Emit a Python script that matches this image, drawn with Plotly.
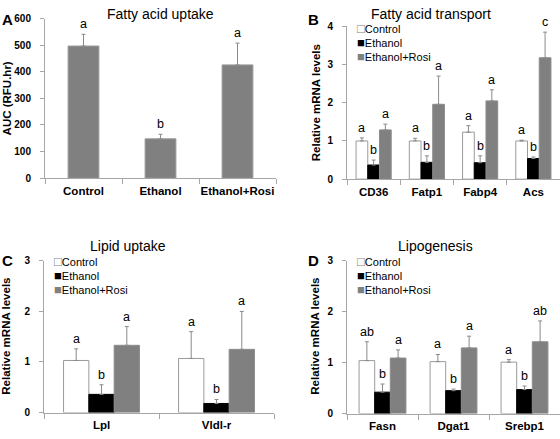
import plotly.graph_objects as go

# ---------------- data ----------------
groups = ["Control", "Ethanol", "Ethanol+Rosi"]

# Panel A: fatty acid uptake (AUC, RFU.hr)
a_values = [497, 148, 426]
a_errors = [44, 17, 82]
a_letters = ["a", "b", "a"]

# Panel B: fatty acid transport
b_genes = ["CD36", "Fatp1", "Fabp4", "Acs"]
b_control = [1.00, 1.00, 1.23, 1.00]
b_control_err = [0.08, 0.07, 0.17, 0.02]
b_ethanol = [0.37, 0.44, 0.43, 0.54]
b_ethanol_err = [0.13, 0.17, 0.18, 0.04]
b_rosi = [1.29, 1.96, 2.05, 3.18]
b_rosi_err = [0.15, 0.74, 0.29, 0.67]
b_letters = [["a", "a", "a", "a"], ["b", "b", "b", "b"], ["a", "a", "a", "c"]]

# Panel C: lipid uptake
c_genes = ["Lpl", "Vldl-r"]
c_control = [1.03, 1.07]
c_control_err = [0.23, 0.53]
c_ethanol = [0.36, 0.18]
c_ethanol_err = [0.19, 0.08]
c_rosi = [1.33, 1.25]
c_rosi_err = [0.37, 0.75]
c_letters = [["a", "a"], ["b", "b"], ["a", "a"]]

# Panel D: lipogenesis
d_genes = ["Fasn", "Dgat1", "Srebp1"]
d_control = [1.04, 1.02, 1.01]
d_control_err = [0.37, 0.14, 0.05]
d_ethanol = [0.42, 0.45, 0.47]
d_ethanol_err = [0.16, 0.03, 0.07]
d_rosi = [1.09, 1.29, 1.41]
d_rosi_err = [0.16, 0.23, 0.41]
d_letters = [["ab", "a", "a"], ["b", "b", "b"], ["a", "a", "ab"]]

# ---------------- styles ----------------
FONT = "Liberation Sans, Arial, sans-serif"
W, H = 560, 439
fill_colors = ["#ffffff", "#000000", "#808080"]
line_colors = ["#9a9a9a", "#000000", "#8c8c8c"]
ERR_COLOR = "#8a8a8a"
AXIS_COLOR = "#a6a6a6"
BARGAP = 0.34

def px_x(p):
    return p / W

def px_y(p):
    return 1 - p / H

fig = go.Figure()

# Panel A
fig.add_trace(go.Bar(
    x=groups, y=a_values, width=0.4,
    marker=dict(color="#808080", line=dict(color="#9a9a9a", width=1)),
    error_y=dict(type="data", symmetric=False, array=a_errors,
                 arrayminus=[0] * len(a_errors), color=ERR_COLOR,
                 thickness=1, width=2),
    xaxis="x", yaxis="y", showlegend=False,
))

panels = [
    ("x2", "y2", b_genes, [b_control, b_ethanol, b_rosi],
     [b_control_err, b_ethanol_err, b_rosi_err], b_letters),
    ("x3", "y3", c_genes, [c_control, c_ethanol, c_rosi],
     [c_control_err, c_ethanol_err, c_rosi_err], c_letters),
    ("x4", "y4", d_genes, [d_control, d_ethanol, d_rosi],
     [d_control_err, d_ethanol_err, d_rosi_err], d_letters),
]

annotations = []

for xa, ya, genes, series, errs, letters in panels:
    for i, (vals, er) in enumerate(zip(series, errs)):
        fig.add_trace(go.Bar(
            x=genes, y=vals, name=groups[i],
            marker=dict(color=fill_colors[i], line=dict(color=line_colors[i], width=1)),
            error_y=dict(type="data", symmetric=False, array=er,
                         arrayminus=[0] * len(er), color=ERR_COLOR,
                         thickness=1, width=2),
            xaxis=xa, yaxis=ya, showlegend=False,
        ))
        group_w = 1 - BARGAP
        off = (i - 1) * group_w / 3
        for j, (v, e, lt) in enumerate(zip(vals, er, letters[i])):
            annotations.append(dict(
                x=j + off, y=v + e, xref=xa, yref=ya, text=lt,
                showarrow=False, yanchor="bottom", yshift=1,
                font=dict(family=FONT, size=12.5, color="#000"),
            ))

for j, (v, e, lt) in enumerate(zip(a_values, a_errors, a_letters)):
    annotations.append(dict(
        x=j, y=v + e, xref="x", yref="y", text=lt,
        showarrow=False, yanchor="bottom", yshift=1,
        font=dict(family=FONT, size=12.5, color="#000"),
    ))

# panel geometry (pixels)
geom = {
    "": dict(x0=45, x1=276, y0=177, y1=13, rng=[0, 600], dtick=100,
             ytitle="AUC (RFU.hr)"),
    "2": dict(x0=347, x1=560, y0=178, y1=21, rng=[0, 4], dtick=1,
              ytitle="Relative mRNA levels"),
    "3": dict(x0=44, x1=274, y0=418, y1=262, rng=[0, 3], dtick=1,
              ytitle="Relative mRNA levels"),
    "4": dict(x0=347, x1=560, y0=419, y1=262, rng=[0, 3], dtick=1,
              ytitle="Relative mRNA levels"),
}

layout_axes = {}
for k, g in geom.items():
    layout_axes["xaxis" + k] = dict(
        domain=[px_x(g["x0"]), px_x(g["x1"])],
        anchor="y" + k, type="category", tickangle=0,
        showline=True, linecolor=AXIS_COLOR, linewidth=1,
        ticks="outside", tickson="boundaries", ticklen=5, tickcolor=AXIS_COLOR,
        tickfont=dict(family=FONT, size=11.5, color="#000", weight="bold"),
        ticklabelstandoff=2,
        showgrid=False, zeroline=False, fixedrange=True,
    )
    layout_axes["yaxis" + k] = dict(
        domain=[px_y(g["y0"]), px_y(g["y1"])],
        anchor="x" + k, range=g["rng"], dtick=g["dtick"],
        showline=True, linecolor=AXIS_COLOR, linewidth=1,
        ticks="outside", ticklen=4, tickcolor=AXIS_COLOR,
        tickfont=dict(family=FONT, size=10, color="#000", weight="bold"),
        ticklabelstandoff=7,
        showgrid=False, zeroline=False, fixedrange=True,
    )

# titles, panel letters, y-axis titles
titles = ["Fatty acid uptake", "Fatty acid transport", "Lipid uptake", "Lipogenesis"]
title_pos = [(160, 8), (431, 8), (128, 247), (435, 247)]
panel_letters = ["A", "B", "C", "D"]
letter_pos = [(7, 14), (313, 14), (7, 262), (313, 262)]
ytitle_pos = [(7, 95), (316, 100), (6, 340), (315, 340)]

for t, (px, py) in zip(titles, title_pos):
    annotations.append(dict(x=px_x(px), y=px_y(py), xref="paper", yref="paper",
                            text=t, showarrow=False, xanchor="center", yanchor="middle",
                            font=dict(family=FONT, size=14, color="#000")))
for t, (px, py) in zip(panel_letters, letter_pos):
    annotations.append(dict(x=px_x(px), y=px_y(py), xref="paper", yref="paper",
                            text=t, showarrow=False, xanchor="center", yanchor="middle",
                            font=dict(family=FONT, size=15, color="#000", weight="bold")))
for (k, g), (px, py) in zip(geom.items(), ytitle_pos):
    annotations.append(dict(x=px_x(px), y=px_y(py), xref="paper", yref="paper",
                            text=g["ytitle"], showarrow=False, textangle=-90,
                            xanchor="center", yanchor="middle",
                            font=dict(family=FONT, size=11.5, color="#000", weight="bold")))

# legends (text with coloured square glyphs)
legend_pos = [(355, 23), (52, 263), (355, 263)]
legend_glyph = ["□", "■", "■"]
legend_glyph_color = ["#7f7f7f", "#000000", "#808080"]
for (lx, ly) in legend_pos:
    for i, g in enumerate(groups):
        annotations.append(dict(
            x=px_x(lx), y=px_y(ly + i * 14.3), xref="paper", yref="paper",
            text=(f'<span style="color:{legend_glyph_color[i]};font-size:13px">'
                  f'{legend_glyph[i]}</span>{g}'),
            showarrow=False, xanchor="left", yanchor="middle",
            font=dict(family=FONT, size=11, color="#000"),
        ))

fig.update_layout(
    width=W, height=H,
    margin=dict(l=0, r=0, t=0, b=0),
    paper_bgcolor="#ffffff", plot_bgcolor="#ffffff",
    barmode="group", bargap=BARGAP, bargroupgap=0,
    showlegend=False,
    annotations=annotations,
    **layout_axes,
)

fig.write_html(
    "out.html",
    config={"displayModeBar": False, "staticPlot": True},
    post_script="document.body.style.margin='0px';document.body.style.overflow='hidden';",
)
